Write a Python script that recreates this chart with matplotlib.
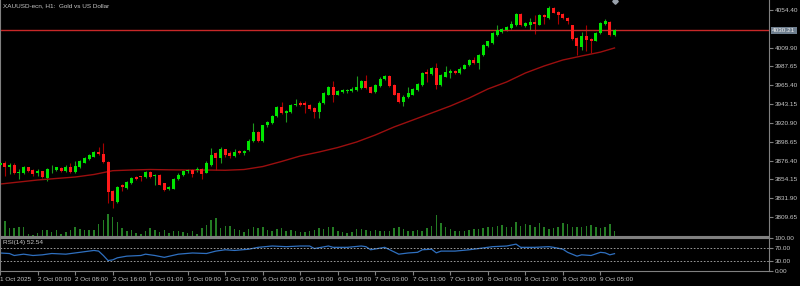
import numpy as np
import matplotlib
matplotlib.use("Agg")
import matplotlib.pyplot as plt
import matplotlib.transforms as mtransforms

plt.rcParams["font.family"] = ["Liberation Sans", "DejaVu Sans"]

# XAUUSD H1 bars, 1 Oct 16:00 -> 9 Oct 07:00
opens = [3871.1, 3873.9, 3869.1, 3871.5, 3861.3, 3861.3, 3868.4, 3865.2, 3862.0, 3863.7,
         3855.8, 3866.0, 3865.2, 3867.6, 3863.7, 3868.4, 3862.8, 3868.4, 3873.9, 3878.6,
         3880.9, 3886.5, 3884.1, 3874.7, 3840.0, 3827.4, 3847.1, 3843.9, 3850.2, 3857.3,
         3857.8, 3856.6, 3862.8, 3858.1, 3858.9, 3849.5, 3842.4, 3843.1, 3854.2, 3859.6,
         3863.7, 3865.2, 3865.2, 3866.8, 3862.0, 3871.5, 3885.7, 3879.4, 3889.7, 3884.9,
         3881.8, 3887.3, 3885.7, 3888.9, 3899.1, 3910.1, 3899.9, 3918.1, 3920.4, 3929.1,
         3939.4, 3933.0, 3933.8, 3941.7, 3944.8, 3944.8, 3942.4, 3938.5, 3933.8, 3944.8,
         3954.2, 3963.3, 3954.2, 3957.4, 3958.3, 3959.0, 3959.8, 3962.2, 3969.9, 3963.0,
         3957.4, 3964.5, 3972.4, 3976.3, 3965.4, 3955.9, 3945.6, 3951.2, 3954.2, 3959.8,
         3966.1, 3980.5, 3978.7, 3985.8, 3965.4, 3975.5, 3980.3, 3982.6, 3979.5, 3985.0,
         3989.0, 3995.3, 3991.4, 4000.6, 4011.8, 4015.0, 4025.2, 4028.4, 4030.7, 4033.1,
         4036.3, 4049.7, 4035.5, 4036.3, 4040.2, 4037.0, 4048.8, 4044.9, 4056.8, 4052.0,
         4049.7, 4044.9, 4036.3, 4021.3, 4011.0, 4023.7, 4020.5, 4018.1, 4026.8, 4037.8,
         4040.2, 4025.2]
closes = [3873.5, 3869.1, 3871.5, 3861.3, 3862.8, 3868.4, 3864.4, 3860.5, 3863.7, 3856.6,
          3866.0, 3866.8, 3868.4, 3863.7, 3869.1, 3862.8, 3869.9, 3875.5, 3879.4, 3883.3,
          3886.5, 3884.1, 3874.7, 3839.2, 3828.2, 3844.8, 3844.8, 3851.0, 3855.8, 3854.9,
          3857.1, 3862.8, 3857.3, 3858.9, 3847.8, 3841.6, 3844.8, 3854.9, 3859.6, 3864.4,
          3865.2, 3860.5, 3866.8, 3860.5, 3873.8, 3882.6, 3879.4, 3889.7, 3883.3, 3881.8,
          3886.5, 3885.7, 3887.3, 3899.9, 3910.1, 3899.9, 3918.1, 3922.0, 3929.1, 3939.4,
          3932.2, 3934.6, 3942.1, 3943.2, 3942.1, 3942.4, 3937.0, 3933.8, 3944.8, 3956.3,
          3963.3, 3953.9, 3958.3, 3959.8, 3959.8, 3961.3, 3963.7, 3970.4, 3962.2, 3956.8,
          3965.4, 3973.2, 3976.3, 3964.5, 3954.2, 3945.6, 3951.9, 3955.9, 3960.6, 3966.9,
          3979.5, 3978.7, 3985.8, 3965.4, 3977.2, 3981.1, 3981.9, 3979.5, 3985.0, 3989.7,
          3995.3, 3991.4, 4000.8, 4013.0, 4017.4, 4026.8, 4030.7, 4032.3, 4034.6, 4037.8,
          4049.7, 4036.3, 4038.7, 4040.2, 4037.8, 4048.8, 4045.8, 4056.8, 4051.2, 4048.1,
          4044.9, 4041.0, 4019.8, 4011.8, 4023.7, 4018.9, 4018.1, 4027.6, 4039.4, 4041.0,
          4025.2, 4030.21]
highs = [3875.9, 3875.9, 3873.5, 3872.9, 3866.4, 3869.9, 3869.3, 3866.4, 3866.8, 3864.6,
         3867.0, 3870.8, 3869.3, 3868.8, 3871.5, 3873.1, 3875.5, 3877.0, 3880.6, 3884.1,
         3887.7, 3892.0, 3896.8, 3875.9, 3841.6, 3846.3, 3848.6, 3852.2, 3856.9, 3858.1,
         3858.7, 3864.0, 3864.0, 3860.5, 3859.9, 3850.4, 3846.3, 3856.3, 3861.1, 3865.8,
         3866.8, 3866.4, 3868.2, 3867.6, 3875.3, 3891.2, 3886.5, 3892.0, 3890.6, 3887.7,
         3889.7, 3888.9, 3888.3, 3901.3, 3921.1, 3911.3, 3919.0, 3923.2, 3930.2, 3940.3,
         3945.6, 3936.2, 3943.2, 3949.5, 3946.2, 3946.4, 3943.8, 3939.7, 3946.2, 3957.4,
         3964.5, 3970.1, 3959.8, 3961.0, 3961.0, 3962.8, 3976.3, 3971.6, 3977.2, 3964.0,
         3966.9, 3974.6, 3977.5, 3977.5, 3966.3, 3956.8, 3953.3, 3963.7, 3962.2, 3968.1,
         3981.1, 3985.0, 3987.0, 3991.4, 3978.7, 3988.2, 3985.0, 3983.5, 3986.4, 3991.1,
         3996.5, 3999.2, 4002.4, 4014.2, 4018.3, 4027.8, 4037.0, 4033.1, 4035.5, 4041.0,
         4050.5, 4050.5, 4039.6, 4044.9, 4048.8, 4049.7, 4049.7, 4059.1, 4057.6, 4052.9,
         4050.5, 4045.8, 4037.2, 4022.5, 4028.4, 4037.0, 4021.3, 4028.4, 4040.2, 4044.1,
         4041.0, 4032.3]
lows = [3868.8, 3858.1, 3860.5, 3859.9, 3854.9, 3860.5, 3862.8, 3858.1, 3858.1, 3855.8,
        3852.6, 3862.0, 3864.0, 3862.3, 3862.3, 3861.6, 3861.6, 3867.0, 3872.9, 3877.6,
        3880.0, 3882.9, 3873.5, 3825.8, 3820.3, 3826.2, 3840.0, 3842.7, 3849.2, 3853.4,
        3851.8, 3855.8, 3856.3, 3847.8, 3846.9, 3840.4, 3841.6, 3842.2, 3853.4, 3858.7,
        3861.3, 3857.3, 3863.4, 3854.9, 3861.1, 3870.5, 3865.2, 3873.1, 3880.9, 3879.4,
        3880.6, 3884.1, 3882.6, 3887.7, 3898.3, 3898.3, 3898.9, 3916.6, 3919.6, 3927.9,
        3931.4, 3922.0, 3932.6, 3940.9, 3940.9, 3932.2, 3935.6, 3926.7, 3926.7, 3943.2,
        3953.3, 3945.6, 3953.3, 3956.3, 3956.8, 3958.0, 3958.6, 3961.0, 3961.0, 3955.7,
        3956.3, 3963.3, 3971.6, 3963.3, 3953.3, 3944.4, 3940.9, 3950.3, 3953.3, 3958.6,
        3965.1, 3969.3, 3977.5, 3961.3, 3964.5, 3974.6, 3974.0, 3978.7, 3978.7, 3984.1,
        3988.2, 3990.5, 3984.3, 4000.0, 4010.7, 4014.2, 4024.2, 4027.2, 4029.6, 4032.3,
        4035.5, 4035.5, 4034.6, 4030.7, 4026.0, 4036.1, 4037.8, 4044.1, 4050.3, 4037.8,
        4043.8, 4037.8, 4018.9, 4001.5, 4007.1, 4006.3, 4003.2, 4017.2, 4026.0, 4037.0,
        4024.2, 4024.2]
volumes = [1500, 4000, 2200, 2200, 2500, 2500, 800, 500, 1000, 1700,
           1700, 1300, 1700, 800, 1200, 1700, 2500, 2000, 1700, 1800,
           1700, 3200, 4300, 5800, 5000, 3800, 2300, 1500, 1800, 1000,
           700, 1500, 2300, 1700, 1300, 1800, 1000, 1500, 1500, 1300,
           1000, 1500, 700, 2300, 3000, 4200, 4700, 2200, 2700, 2700,
           2000, 1800, 1300, 2000, 2500, 2200, 2400, 1800, 1600, 2000,
           2200, 1500, 1800, 1400, 1200, 1300, 1600, 1800, 2200, 2000,
           2600, 2400, 1400, 1200, 1000, 1200, 2000, 1900, 1800, 1500,
           1700, 1600, 1500, 1400, 2200, 2600, 2000, 1600, 1500, 1700,
           1600, 2200, 2800, 5500, 3500, 2400, 2000, 1600, 1400, 1600,
           1800, 2000, 1900, 2200, 2500, 2400, 2800, 3000, 2600, 2400,
           3800, 2800, 3200, 3000, 2600, 3400, 2400, 2000, 2200, 2600,
           3600, 3200, 2600, 2400, 2600, 2800, 3000, 2400, 2200, 2600,
           3200, 1400]

# moving average, read every 4 bars
ma_bars = [0, 4, 8, 12, 16, 20, 24, 28, 32, 36, 40, 44, 48, 52, 56, 60, 64,
           68, 72, 76, 80, 84, 88, 92, 96, 100, 104, 108, 112, 116, 120, 124, 128, 131]
ma_vals = [3848.6, 3851.0, 3853.4, 3855.2, 3856.9, 3859.9, 3864.4, 3865.2, 3865.8,
           3865.4, 3865.2, 3865.2, 3864.9, 3865.8, 3869.3, 3875.3, 3881.8, 3886.5,
           3891.8, 3898.3, 3906.6, 3916.1, 3924.3, 3932.6, 3940.9, 3950.3, 3961.0,
           3969.3, 3979.9, 3988.2, 3995.3, 4000.0, 4004.6, 4009.5]

# RSI(14)
rsi_bars = [0, 2, 3, 5, 7, 9, 11, 14, 17, 20, 21, 22, 23, 24, 25, 27, 30, 31, 33, 35,
            38, 41, 44, 46, 48, 50, 53, 55, 58, 61, 64, 66, 67, 70, 71, 74, 77, 78, 79,
            82, 84, 85, 87, 89, 90, 92, 93, 94, 97, 100, 102, 105, 108, 110, 111, 114,
            117, 118, 120, 121, 123, 124, 126, 128, 129, 130, 131]
rsi_vals = [54.6, 52.9, 47.0, 51.0, 47.0, 49.0, 53.0, 51.0, 56.6, 62.3, 60.3, 47.0, 31.7,
            33.7, 40.0, 45.0, 47.0, 51.0, 47.0, 41.4, 51.0, 54.6, 53.0, 60.3, 64.3, 62.3,
            66.0, 71.7, 75.7, 73.7, 75.7, 75.7, 68.0, 75.7, 71.7, 71.7, 75.7, 73.7, 64.3,
            71.7, 58.0, 51.0, 54.6, 56.6, 64.3, 66.0, 55.0, 60.3, 60.3, 64.3, 68.0, 73.7,
            75.7, 81.4, 71.7, 71.7, 73.7, 71.7, 66.0, 56.6, 45.0, 49.0, 47.0, 56.6, 55.0,
            49.0, 52.54]

time_labels = ["1 Oct 2025", "2 Oct 00:00", "2 Oct 08:00", "2 Oct 16:00", "3 Oct 01:00",
               "3 Oct 09:00", "3 Oct 17:00", "6 Oct 02:00", "6 Oct 10:00", "6 Oct 18:00",
               "7 Oct 03:00", "7 Oct 11:00", "7 Oct 19:00", "8 Oct 04:00", "8 Oct 12:00",
               "8 Oct 20:00", "9 Oct 05:00"]
price_ticks = [4054.40, 4009.90, 3987.65, 3965.40, 3943.15, 3920.90, 3898.65,
               3876.40, 3854.15, 3831.90, 3809.65]
last_price = 4030.21
arrow_bar, arrow_price = 131, 4065.0

BG = "black"
GRID = "#808080"
TXT = "#c8c8c8"
UP, DOWN = "#00e600", "#ff1a1a"
UPW, DOWNW = "#1d9a1d", "#a80000"
FS = 4.6

fig = plt.figure(figsize=(8, 2.86), dpi=100, facecolor=BG)
ax = fig.add_axes([0, 1 - 237 / 286, 769 / 800, 237 / 286])
rsi = fig.add_axes([0, 1 - 271 / 286, 769 / 800, 33 / 286], sharex=ax)

# volumes behind the price
vax = ax.twinx()
vax.set_zorder(0)
ax.set_zorder(1)
ax.patch.set_visible(False)
vax.set_facecolor(BG)
x = np.arange(len(closes))
vax.bar(x, volumes, width=0.32, color="#247d24")
vax.set_ylim(0, 59250)
vax.axis("off")

o = np.array(opens)
c = np.array(closes)
up = c >= o
ax.vlines(x[up], np.array(lows)[up], np.array(highs)[up], color=UPW, lw=0.8)
ax.vlines(x[~up], np.array(lows)[~up], np.array(highs)[~up], color=DOWNW, lw=0.8)
body_lo = np.minimum(o, c)
body_h = np.maximum(np.abs(c - o), 0.7)
ax.bar(x[up], body_h[up], bottom=body_lo[up], width=0.64, color=UP, zorder=3)
ax.bar(x[~up], body_h[~up], bottom=body_lo[~up], width=0.64, color=DOWN, zorder=3)

ax.plot(ma_bars, ma_vals, color="#9b0f0f", lw=1.0, zorder=2)
ax.axhline(last_price, color="#c82828", lw=1.0, zorder=2)
ax.plot(arrow_bar, arrow_price, marker="D", ms=2.8, color="#9aa2ac", zorder=4)

ax.set_xlim(-0.03, 163.94)
ax.set_ylim(3786.0, 4066.2)
ax.set_facecolor(BG)
ax.spines["top"].set_visible(False)
for s in ["left", "right", "bottom"]:
    ax.spines[s].set_color(GRID)
ax.spines["bottom"].set_linewidth(1.5)
ax.yaxis.tick_right()
ax.set_yticks(price_ticks)
ax.set_yticklabels([f"{p:.2f}" for p in price_ticks])
ax.tick_params(axis="y", colors=GRID, labelcolor=TXT, labelsize=FS, length=3, width=0.8, pad=1)
ax.tick_params(axis="x", bottom=False, labelbottom=False)

trans = mtransforms.blended_transform_factory(ax.transAxes, ax.transData)
ax.text(1.004, last_price, f"{last_price:.2f}", transform=trans, fontsize=FS,
        color="#eeeeee", va="center", ha="left", zorder=5,
        bbox=dict(boxstyle="square,pad=0.2", fc="#6f7f8f", ec="none"))
ax.text(0.004, 0.988, "XAUUSD-ecn, H1:  Gold vs US Dollar", transform=ax.transAxes,
        fontsize=FS, color=TXT, va="top", ha="left")

# RSI panel
rsi.set_facecolor(BG)
rsi.plot(rsi_bars, rsi_vals, color="#2f70c0", lw=0.9)
for lvl in (30, 70):
    rsi.axhline(lvl, color="#b0b0b0", lw=0.6, ls=(0, (2, 2)))
rsi.set_ylim(0, 100)
for s in rsi.spines.values():
    s.set_color(GRID)
rsi.yaxis.tick_right()
rsi.set_yticks([0, 30, 70, 100])
rsi.set_yticklabels(["0.00", "30.00", "70.00", "100.00"])
rsi.tick_params(axis="y", colors=GRID, labelcolor=TXT, labelsize=FS, length=3, width=0.8, pad=1)
rsi.set_xticks(np.arange(0, 8 * len(time_labels), 8))
rsi.set_xticklabels(time_labels)
rsi.tick_params(axis="x", colors=GRID, labelcolor=TXT, labelsize=FS, length=3, width=0.8, pad=1.5)
for lab in rsi.get_xticklabels():
    lab.set_ha("left")
rsi.text(0.004, 0.93, "RSI(14) 52.54", transform=rsi.transAxes, fontsize=FS,
         color=TXT, va="top", ha="left")

fig.savefig("out.png", dpi=100, facecolor=BG)
